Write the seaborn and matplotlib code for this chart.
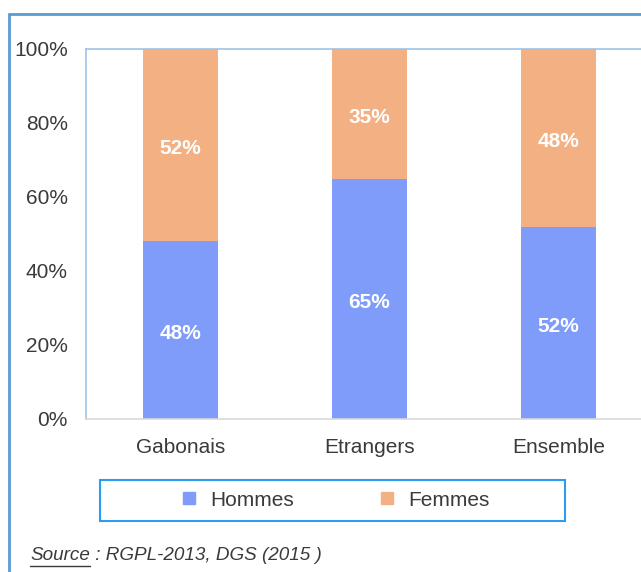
import matplotlib
matplotlib.use("Agg")
import matplotlib.pyplot as plt
from matplotlib.lines import Line2D
from matplotlib.patches import Rectangle
import seaborn as sns
import pandas as pd

categories = ["Gabonais", "Etrangers", "Ensemble"]
hommes = [48, 65, 52]
femmes = [52, 35, 48]
series_names = ["Hommes", "Femmes"]
y_ticks = [0, 20, 40, 60, 80, 100]
source_label = "Source"
source_rest = " : RGPL-2013, DGS (2015 )"

col_hommes = "#7f9cfb"
col_femmes = "#f3b083"
txt = "#3a3a3a"

sns.set_style("white")
plt.rcParams["font.family"] = ["Liberation Sans", "DejaVu Sans"]

df = pd.DataFrame({"cat": categories, "Hommes": hommes, "Femmes": femmes})
df["total"] = df["Hommes"] + df["Femmes"]

fig = plt.figure(figsize=(6.41, 5.72), dpi=100)
W, H = 641, 572
ax = fig.add_axes([86 / W, 1 - 419 / H, (653 - 86) / W, (419 - 49) / H])

# stacked bars: total first (Femmes colour), Hommes drawn over it
sns.barplot(data=df, x="cat", y="total", color=col_femmes, width=0.4,
            saturation=1, linewidth=0, ax=ax)
sns.barplot(data=df, x="cat", y="Hommes", color=col_hommes, width=0.4,
            saturation=1, linewidth=0, ax=ax)

for i, (h, f) in enumerate(zip(hommes, femmes)):
    for val, ypos in [(h, h / 2), (f, h + f / 2)]:
        ax.annotate(f"{val}%", (i, ypos), xytext=(0, -2.5), textcoords="offset points",
                    ha="center", va="center", color="white",
                    fontsize=15, fontweight="bold")

ax.set_xlim(-0.5, 2.5)
ax.set_ylim(0, 100)
ax.set_yticks(y_ticks)
ax.set_yticklabels([f"{t}%" for t in y_ticks])
ax.set_xlabel("")
ax.set_ylabel("")
ax.tick_params(axis="y", length=0, pad=13, labelsize=15, labelcolor=txt)
ax.tick_params(axis="x", length=0, pad=14, labelsize=15, labelcolor=txt)
ax.spines["left"].set_color("#9dc3e6")
ax.spines["top"].set_color("#9dc3e6")
ax.spines["bottom"].set_color("#d9d9d9")
ax.spines["right"].set_visible(False)
for s in ax.spines.values():
    s.set_linewidth(1.2)

# outer chart frame
fig.add_artist(Line2D([9 / W, 9 / W], [0, 1 - 14 / H], color="#5b9bd5", lw=2,
                      transform=fig.transFigure))
fig.add_artist(Line2D([9 / W, 1], [1 - 14 / H, 1 - 14 / H], color="#5b9bd5", lw=2,
                      transform=fig.transFigure))

# legend box
fig.add_artist(Rectangle((100 / W, 1 - 521 / H), 465 / W, 41 / H,
                         transform=fig.transFigure, fill=False,
                         edgecolor="#2b9cf2", lw=1.5))
handles = [Line2D([], [], marker="s", ls="", markersize=8, color=c)
           for c in [col_hommes, col_femmes]]
fig.legend(handles, series_names, loc="center", bbox_to_anchor=(334 / W, 1 - 500 / H),
           ncol=2, frameon=False, fontsize=15, columnspacing=4.0,
           handlelength=1.0, handletextpad=0.5, labelcolor=txt)

# source
t = fig.text(30 / W, 1 - 556 / H, source_label, fontsize=13.6, style="italic",
             color=txt, va="center")
fig.canvas.draw()
bb = t.get_window_extent()
fig.add_artist(Line2D([bb.x0 / W, bb.x1 / W], [(bb.y0 - 1) / H, (bb.y0 - 1) / H],
                      color=txt, lw=1, transform=fig.transFigure))
fig.text(bb.x1 / W, 1 - 556 / H, source_rest, fontsize=13.6, style="italic",
         color=txt, va="center")

fig.savefig("out.png", dpi=100)
